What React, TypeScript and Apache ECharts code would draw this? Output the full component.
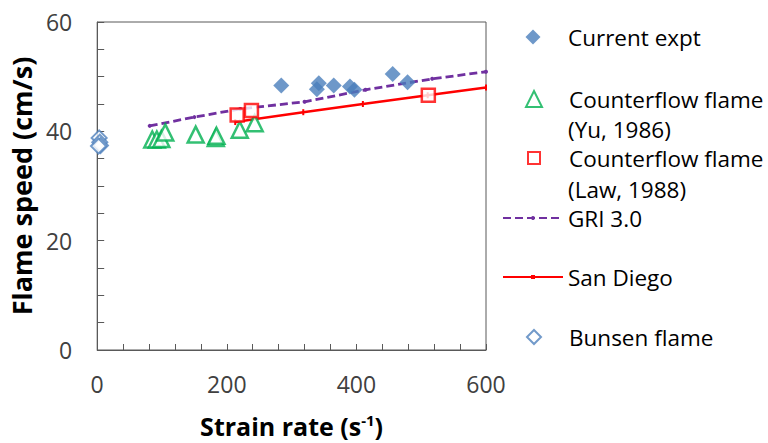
import React, { useEffect, useRef } from "react";
import * as echarts from "echarts";

const currentExpt: [number, number][] = [
  [284, 48.4], [342, 48.8], [339, 47.7], [365, 48.4], [390, 48.2], [397, 47.6], [456, 50.5], [479, 49.0],
];
const yuData: [number, number][] = [
  [85, 38.5], [92, 38.5], [99, 38.6], [105, 39.8], [152, 39.4], [183, 38.8], [184, 39.2], [220, 40.3], [243, 41.5],
];
const lawData: [number, number][] = [
  [216, 43.0], [238, 43.8], [511, 46.6],
];
const griData: [number, number][] = [
  [81, 41.0], [150, 42.6], [221, 44.1], [320, 45.4], [414, 47.6], [517, 49.6], [600, 50.9],
];
const sanDiegoData: [number, number][] = [
  [213, 41.7], [318, 43.5], [410, 45.0], [510, 46.6], [600, 48.0],
];
const bunsenData: [number, number][] = [
  [3, 38.8], [4, 38.0], [5, 37.4], [2, 37.3],
];
const xTickLabels = [0, 200, 400, 600];
const yTickLabels = [0, 20, 40, 60];

const FONT = "'Open Sans', sans-serif";
const LFS = 22.5;

export default function App() {
  const ref = useRef<HTMLDivElement>(null);
  useEffect(() => {
    if (!ref.current) return;
    const chart = echarts.init(ref.current, undefined, { renderer: "svg" });
    const legendText = { fontFamily: FONT, fontSize: LFS, color: "#000", lineHeight: 26 };
    const symLegend = (name: string, centerY: number, size: number, fmt?: string) => ({
      data: [name],
      left: 533 - size / 2,
      top: centerY - 13,
      padding: 0,
      itemWidth: size,
      itemHeight: size,
      textStyle: { ...legendText, padding: [0, 0, 0, 568 - (533 + size / 2) - 5] },
      selectedMode: false,
      formatter: fmt ? () => fmt : undefined,
    });
    const lineLegend = (name: string, centerY: number) => ({
      data: [name],
      left: 502,
      top: centerY - 13,
      padding: 0,
      itemWidth: 60,
      itemHeight: 5,
      textStyle: legendText,
      selectedMode: false,
    });
    chart.setOption({
      animation: false,
      backgroundColor: "#fff",
      grid: {
        left: 97, top: 22, width: 389, height: 330,
        show: true, borderColor: "#595959", borderWidth: 1, backgroundColor: "transparent",
      },
      xAxis: {
        type: "value", min: 0, max: 600, interval: 40,
        name: "{a|Strain rate (s}{sup|-1}{a|)}",
        nameLocation: "middle", nameGap: 62,
        nameTextStyle: {
          rich: {
            a: { fontFamily: FONT, fontSize: 25, fontWeight: "bold", color: "#000" },
            sup: { fontFamily: FONT, fontSize: 15, fontWeight: "bold", color: "#000", verticalAlign: "top", padding: [0, 0, 12, 0] },
          },
        },
        axisLine: { lineStyle: { color: "#595959", width: 1 } },
        axisTick: { inside: true, length: 6, lineStyle: { color: "#595959" } },
        axisLabel: {
          margin: 22, fontFamily: FONT, fontSize: 23, color: "#404040",
          formatter: (v: number) => (xTickLabels.includes(v) ? String(v) : ""),
        },
        splitLine: { show: false },
      },
      yAxis: {
        type: "value", min: 0, max: 60, interval: 5,
        name: "Flame speed (cm/s)",
        nameLocation: "middle", nameGap: 58,
        nameTextStyle: { fontFamily: FONT, fontSize: 27, fontWeight: "bold", color: "#000" },
        axisLine: { show: true, lineStyle: { color: "#595959", width: 1 } },
        axisTick: { show: true, inside: true, length: 7, lineStyle: { color: "#595959" } },
        axisLabel: {
          margin: 25, fontFamily: FONT, fontSize: 23, color: "#404040",
          formatter: (v: number) => (yTickLabels.includes(v) ? String(v) : ""),
        },
        splitLine: { show: false },
      },
      legend: [
        symLegend("Current expt", 37, 15),
        symLegend("Counterflow flame (Yu, 1986)", 99, 16, "Counterflow flame"),
        symLegend("Counterflow flame (Law, 1988)", 158, 12, "Counterflow flame"),
        lineLegend("GRI 3.0", 218),
        lineLegend("San Diego", 277),
        symLegend("Bunsen flame", 337, 14),
      ],
      graphic: [
        { type: "text", left: 568, top: 129 - 13, style: { text: "(Yu, 1986)", fontFamily: FONT, fontSize: LFS, fill: "#000", lineHeight: 26 } },
        { type: "text", left: 568, top: 189 - 13, style: { text: "(Law, 1988)", fontFamily: FONT, fontSize: LFS, fill: "#000", lineHeight: 26 } },
      ],
      series: [
        {
          name: "GRI 3.0", type: "line", data: griData,
          symbol: "circle", symbolSize: 4,
          itemStyle: { color: "#7030A0" },
          lineStyle: { color: "#7030A0", width: 2.8, type: [8, 4] },
          z: 2,
        },
        {
          name: "San Diego", type: "line", data: sanDiegoData,
          symbol: "rect", symbolSize: [2, 6],
          itemStyle: { color: "#FF0000" },
          lineStyle: { color: "#FF0000", width: 2.5 },
          z: 2,
        },
        {
          name: "Counterflow flame (Yu, 1986)", type: "scatter", data: yuData,
          symbol: "triangle", symbolSize: 16,
          itemStyle: { color: "#fff", borderColor: "#00B050", borderWidth: 2.5 },
          z: 3,
        },
        {
          name: "Counterflow flame (Law, 1988)", type: "scatter", data: lawData,
          symbol: "rect", symbolSize: 13,
          itemStyle: { color: "#fff", borderColor: "#FF0000", borderWidth: 2.5 },
          z: 4,
        },
        {
          name: "Current expt", type: "scatter", data: currentExpt,
          symbol: "diamond", symbolSize: 16,
          itemStyle: { color: "#4A7EBB" },
          z: 5,
        },
        {
          name: "Bunsen flame", type: "scatter", data: bunsenData,
          symbol: "diamond", symbolSize: 15,
          itemStyle: { color: "#fff", borderColor: "#4F81BD", borderWidth: 2 },
          z: 5,
        },
      ],
    });
    return () => chart.dispose();
  }, []);
  return <div ref={ref} style={{ position: "fixed", left: 0, top: 0, width: 768, height: 443 }} />;
}
